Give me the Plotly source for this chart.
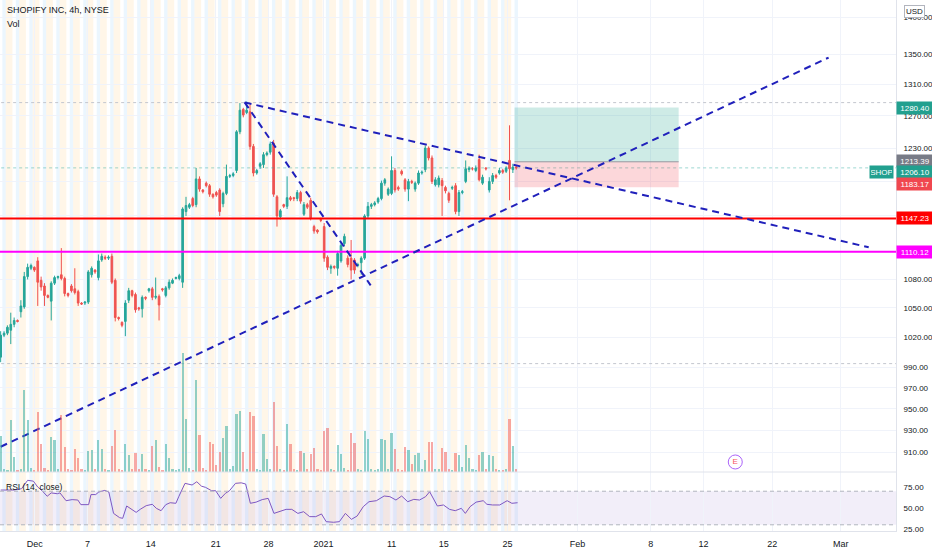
import math
import plotly.graph_objects as go

# 4h bars (extended hours), bar index 0..153
opens = [1000, 1022, 1024, 1027, 1033, 1037, 1046, 1051, 1083, 1092,
         1093, 1100, 1079, 1073, 1063, 1057, 1076, 1082, 1085, 1081,
         1065, 1073, 1070, 1067, 1055, 1055, 1056, 1085, 1090, 1082,
         1101, 1104, 1103, 1105, 1079, 1040, 1035, 1036, 1058, 1068,
         1064, 1050, 1049, 1061, 1068, 1070, 1061, 1062, 1070, 1063,
         1071, 1076, 1081, 1081, 1077, 1155, 1160, 1170, 1163, 1193,
         1180, 1188, 1185, 1175, 1177, 1180, 1164, 1176, 1196, 1197,
         1203, 1250, 1278, 1274, 1275, 1232, 1200, 1208, 1210, 1222,
         1225, 1236, 1172, 1149, 1163, 1161, 1171, 1171, 1170, 1177,
         1152, 1163, 1168, 1138, 1134, 1146, 1138, 1104, 1092, 1094,
         1092, 1100, 1119, 1103, 1103, 1101, 1095, 1098, 1103, 1150,
         1161, 1163, 1166, 1170, 1188, 1175, 1176, 1203, 1183, 1202,
         1192, 1181, 1190, 1181, 1188, 1200, 1204, 1230, 1218, 1186,
         1186, 1191, 1183, 1176, 1182, 1185, 1155, 1177, 1190, 1204,
         1205, 1203, 1216, 1188, 1206, 1180, 1190, 1197, 1200, 1203,
         1202, 1215, 1204, 1207]
highs = [1026, 1026, 1032, 1045, 1040, 1038, 1058, 1088, 1097, 1097,
         1094, 1104, 1083, 1076, 1064, 1078, 1084, 1084, 1114, 1083,
         1066, 1075, 1092, 1069, 1056, 1057, 1090, 1094, 1091, 1107,
         1108, 1106, 1106, 1108, 1081, 1041, 1036, 1058, 1071, 1069,
         1066, 1051, 1063, 1062, 1071, 1072, 1082, 1064, 1071, 1073,
         1080, 1081, 1083, 1086, 1160, 1172, 1165, 1172, 1206, 1196,
         1181, 1190, 1187, 1176, 1179, 1182, 1178, 1210, 1199, 1201,
         1252, 1286, 1280, 1288, 1284, 1235, 1205, 1213, 1225, 1226,
         1238, 1240, 1174, 1158, 1164, 1196, 1173, 1172, 1180, 1179,
         1166, 1165, 1171, 1140, 1135, 1148, 1142, 1106, 1096, 1095,
         1111, 1120, 1130, 1106, 1123, 1103, 1098, 1105, 1152, 1166,
         1165, 1167, 1172, 1191, 1194, 1183, 1220, 1206, 1185, 1204,
         1194, 1193, 1192, 1190, 1203, 1203, 1233, 1232, 1221, 1195,
         1197, 1194, 1185, 1178, 1185, 1188, 1180, 1180, 1215, 1208,
         1207, 1209, 1222, 1198, 1207, 1195, 1200, 1199, 1206, 1205,
         1208, 1258, 1211, 1209]
lows = [995, 1020, 1022, 1013, 1030, 1035, 1040, 1049, 1080, 1090,
        1088, 1052, 1068, 1052, 1060, 1037, 1074, 1080, 1079, 1062,
        1061, 1066, 1064, 1052, 1053, 1053, 1054, 1082, 1086, 1079,
        1099, 1101, 1101, 1075, 1036, 1037, 1030, 1021, 1055, 1061,
        1045, 1047, 1040, 1058, 1066, 1058, 1059, 1037, 1067, 1061,
        1069, 1075, 1080, 1079, 1071, 1150, 1158, 1160, 1160, 1178,
        1176, 1183, 1172, 1170, 1172, 1150, 1160, 1174, 1194, 1195,
        1200, 1247, 1268, 1272, 1228, 1196, 1198, 1205, 1206, 1220,
        1222, 1172, 1138, 1146, 1159, 1158, 1167, 1167, 1167, 1164,
        1150, 1158, 1145, 1130, 1130, 1143, 1099, 1090, 1086, 1091,
        1084, 1098, 1116, 1093, 1080, 1086, 1093, 1085, 1101, 1147,
        1158, 1161, 1164, 1168, 1185, 1173, 1174, 1177, 1179, 1197,
        1178, 1167, 1187, 1178, 1186, 1198, 1201, 1215, 1187, 1184,
        1183, 1150, 1176, 1165, 1180, 1152, 1150, 1175, 1188, 1201,
        1203, 1201, 1190, 1186, 1203, 1177, 1187, 1193, 1198, 1199,
        1200, 1168, 1200, 1204]
closes = [1022, 1024, 1030, 1033, 1037, 1036, 1052, 1083, 1093, 1095,
          1090, 1077, 1072, 1063, 1061, 1076, 1082, 1083, 1081, 1065,
          1063, 1068, 1066, 1055, 1054, 1056, 1088, 1092, 1088, 1100,
          1105, 1103, 1104, 1077, 1040, 1039, 1032, 1055, 1068, 1063,
          1048, 1049, 1061, 1060, 1070, 1061, 1062, 1053, 1069, 1071,
          1077, 1079, 1082, 1084, 1158, 1162, 1163, 1162, 1193, 1181,
          1178, 1185, 1175, 1172, 1174, 1155, 1176, 1196, 1197, 1199,
          1250, 1277, 1271, 1277, 1232, 1200, 1203, 1211, 1222, 1224,
          1235, 1175, 1150, 1156, 1161, 1171, 1169, 1170, 1177, 1167,
          1163, 1160, 1148, 1133, 1132, 1145, 1103, 1093, 1094, 1093,
          1108, 1117, 1127, 1096, 1090, 1090, 1096, 1103, 1150, 1161,
          1163, 1165, 1170, 1188, 1192, 1181, 1203, 1180, 1181, 1199,
          1181, 1190, 1189, 1188, 1200, 1201, 1230, 1218, 1190, 1192,
          1194, 1185, 1179, 1168, 1183, 1155, 1177, 1178, 1205, 1206,
          1205, 1206, 1192, 1195, 1205, 1190, 1197, 1195, 1203, 1201,
          1206, 1205, 1207, 1206.1]
volume_k = [360, 30, 20, 520, 150, 20, 30, 820, 520, 40,
            20, 600, 280, 40, 20, 350, 320, 30, 570, 250,
            30, 20, 230, 140, 30, 20, 210, 220, 30, 320,
            230, 30, 20, 260, 420, 30, 20, 280, 170, 30,
            190, 30, 180, 30, 20, 260, 320, 50, 20, 280,
            140, 30, 20, 30, 1190, 530, 40, 20, 920, 370,
            40, 20, 300, 280, 70, 200, 340, 460, 30, 60,
            580, 610, 200, 30, 600, 560, 30, 20, 380, 130,
            30, 700, 260, 30, 20, 480, 280, 30, 20, 210,
            190, 30, 180, 240, 30, 20, 410, 440, 30, 20,
            270, 180, 40, 20, 390, 290, 30, 20, 410, 330,
            30, 20, 30, 330, 320, 30, 390, 230, 30, 20,
            250, 220, 80, 170, 190, 30, 120, 300, 300, 30,
            30, 240, 200, 30, 20, 190, 170, 50, 270, 140,
            30, 20, 170, 200, 30, 170, 160, 30, 20, 20,
            30, 530, 260, 30]

rsi_bar = [0, 4, 6.2, 8, 9.7, 11, 12.3, 13.8, 15, 16.8, 17.6, 18.5, 19.4, 21.2, 22.9,
           23.8, 24.7, 26.1, 26.8, 28.2, 29.1, 30.9, 32.1, 33.5, 35.3, 36.2, 37.4, 38.8,
           40.2, 41.4, 43.2, 45, 46.2, 47.6, 49, 50.3, 52, 52.9, 54.7, 56.8, 58.2, 59.6,
           60.8, 62.6, 63.8, 65.3, 66.7, 67.9, 69.7, 71.4, 72.7, 74.1, 75.8, 77.6, 79.4,
           81.1, 82.9, 84.7, 86.4, 88.2, 89.9, 91.7, 93.5, 95.2, 96.6, 98.8, 100.5, 102.3,
           104.1, 105.8, 107.6, 109.3, 111.5, 113.8, 115.5, 117.3, 119, 120.8, 122.6,
           124.3, 126.1, 127.3, 129.6, 131.4, 133.2, 134.9, 136.7, 137.9, 139.3, 141.1,
           143.2, 144.3, 146, 148.1, 150.3, 151.7, 153.4]
rsi_val = [71.4, 71.4, 73, 83, 82, 75, 70.6, 64, 68, 67, 68, 64, 58.7, 60, 59.5,
           54, 54, 54, 66, 66, 69, 71, 69, 43.6, 38.5, 37.7, 52.4, 48.8,
           44.8, 48.4, 52.8, 54.4, 49.6, 46.8, 54, 56.3, 55.6, 64, 79.4, 77.4, 81.3, 76,
           74.6, 70.6, 70.6, 61.5, 67.5, 70.6, 79.4, 80, 78.6, 55.6, 57, 60, 61.5,
           43.6, 46.4, 48.4, 48.4, 43.6, 45.6, 39.7, 39.7, 42.9, 33.7, 33, 33.7, 43.6,
           36.5, 40.5, 51.6, 57.5, 58.7, 64.3, 63.5, 59.5, 64.3, 57.5, 60.3,
           59.5, 63.5, 69.4, 52.4, 53.6, 48.4, 46.8, 49.6, 43.6, 51.6, 57,
           58.7, 54.4, 53.6, 53.6, 58.7, 55.6, 56.3]

tick_bar = [10.1, 25.8, 44.5, 63.8, 79.5, 95.8, 116.0, 131.5, 150.4, 171.2, 192.9, 208.6, 229.0, 249.3]
tick_text = ["Dec", "7", "14", "21", "28", "2021", "11", "15", "25", "Feb", "8", "12", "22", "Mar"]
price_ticks = [910, 930, 950, 970, 990, 1020, 1050, 1080, 1110, 1150, 1190, 1230, 1270, 1310, 1350, 1400]
hidden_ticks = [1110, 1150, 1190]   # covered by the coloured price labels

support_red = 1147.23
support_magenta = 1110.12
# drawn trend lines: (bar0, price0, bar1, price1)
trend_lines = [(0, 915.1, 245.7, 1345.3),
               (72.4, 1286.9, 257.6, 1114.9),
               (72.4, 1286.9, 109.8, 1073.6)]
box_left, box_right = 152.5, 201.2
target, entry, stop = 1280.40, 1213.39, 1183.17
last_price = 1206.10
dotted_levels = [1286.6, 993.6]
earnings_bar, earnings_price = 218, 901.4

FONT = "Liberation Sans, Arial, sans-serif"
UP, DOWN = "#26A69A", "#EF5350"
GRID = "#F0F3FA"
AXIS = "#E0E3EB"
BLUE = "#2020BB"
TXT = "#131722"
x_range = [-0.2, 265.7]
split = (531 - 472) / 531   # main pane / RSI pane border (paper)

fig = go.Figure()

# volume (overlay at the bottom of the main pane)
vol_colors = ["rgba(38,166,154,0.5)" if c >= o else "rgba(239,83,80,0.5)" for o, c in zip(opens, closes)]
bars = list(range(len(closes)))
fig.add_trace(go.Bar(x=bars, y=volume_k, marker_color=vol_colors, marker_line_width=0,
                     width=0.65, xaxis="x", yaxis="y3"))

# candles
fig.add_trace(go.Candlestick(
    x=bars, open=opens, high=highs, low=lows, close=closes,
    increasing=dict(line=dict(color=UP, width=1), fillcolor=UP),
    decreasing=dict(line=dict(color=DOWN, width=1), fillcolor=DOWN),
    whiskerwidth=0, xaxis="x", yaxis="y"))

# horizontal levels
full = [x_range[0] - 5, x_range[1] + 5]
fig.add_trace(go.Scatter(x=full, y=[support_red] * 2, mode="lines",
                         line=dict(color="#FF0000", width=2)))
fig.add_trace(go.Scatter(x=full, y=[support_magenta] * 2, mode="lines",
                         line=dict(color="#FF00FF", width=2)))
for lvl in dotted_levels:
    fig.add_trace(go.Scatter(x=full, y=[lvl] * 2, mode="lines",
                             line=dict(color="#C3C6CE", width=1, dash="dot")))
fig.add_trace(go.Scatter(x=full, y=[last_price] * 2, mode="lines",
                         line=dict(color="rgba(38,166,154,0.45)", width=1, dash="dot")))

# long position box
fig.add_trace(go.Scatter(x=[box_left, box_right, box_right, box_left, box_left],
                         y=[entry, entry, target, target, entry], mode="none",
                         fill="toself", fillcolor="rgba(8,153,129,0.2)"))
fig.add_trace(go.Scatter(x=[box_left, box_right, box_right, box_left, box_left],
                         y=[stop, stop, entry, entry, stop], mode="none",
                         fill="toself", fillcolor="rgba(242,54,69,0.2)"))
fig.add_trace(go.Scatter(x=[box_left, box_right], y=[entry, entry], mode="lines",
                         line=dict(color="#9598A1", width=1)))

# trend lines
for b0, p0, b1, p1 in trend_lines:
    fig.add_trace(go.Scatter(x=[b0, b1], y=[p0, p1], mode="lines",
                             line=dict(color=BLUE, width=2, dash="7px,5px")))

# earnings marker
fig.add_trace(go.Scatter(x=[earnings_bar], y=[earnings_price], mode="markers+text",
                         text=["E"], textposition="middle center",
                         textfont=dict(size=8, color="#F7525F", family=FONT),
                         marker=dict(symbol="circle-open", size=14,
                                     line=dict(color="#F7A1A8", width=1))))

# RSI
fig.add_trace(go.Scatter(x=rsi_bar, y=rsi_val, mode="lines", xaxis="x2", yaxis="y2",
                         line=dict(color="#7E57C2", width=1)))

# session background stripes
shapes = []
for i in bars:
    if i % 4 == 2:
        shapes.append(dict(type="rect", xref="x", yref="paper", x0=i - 0.5, x1=i + 1.5,
                           y0=0, y1=1, fillcolor="rgba(255,152,0,0.09)", line_width=0, layer="below"))
    elif i % 4 == 1:
        shapes.append(dict(type="rect", xref="x", yref="paper", x0=i - 0.5, x1=i + 0.5,
                           y0=0, y1=1, fillcolor="rgba(33,150,243,0.09)", line_width=0, layer="below"))
# RSI band
shapes.append(dict(type="rect", xref="paper", yref="y2", x0=0, x1=1, y0=30, y1=70,
                   fillcolor="rgba(126,87,194,0.1)", line_width=0, layer="below"))
for lv in (30, 70):
    shapes.append(dict(type="line", xref="paper", yref="y2", x0=0, x1=1, y0=lv, y1=lv,
                       line=dict(color="#B2B5BE", width=1, dash="4px,3px")))
shapes.append(dict(type="line", xref="paper", yref="paper", x0=0, x1=1, y0=split, y1=split,
                   line=dict(color=AXIS, width=1)))

annotations = [
    dict(text="SHOPIFY INC, 4h, NYSE", xref="paper", yref="paper", x=0.006, y=0.981,
         xanchor="left", yanchor="middle", showarrow=False, font=dict(size=9, color=TXT)),
    dict(text="Vol", xref="paper", yref="paper", x=0.006, y=0.955,
         xanchor="left", yanchor="middle", showarrow=False, font=dict(size=9, color=TXT)),
    dict(text="RSI (14, close)", xref="paper", yref="paper", x=0.004, y=(531 - 487) / 531,
         xanchor="left", yanchor="middle", showarrow=False, font=dict(size=8.5, color=TXT)),
    dict(text="USD", xref="paper", yref="paper", x=1, y=1, xanchor="left", yanchor="top",
         xshift=8, yshift=-5, showarrow=False, bgcolor="white", bordercolor="#B2B5BE",
         borderwidth=1, borderpad=1, font=dict(size=8, color=TXT)),
]
# price labels on the right axis: (price, colour, pixel shift)
price_labels = [(target, "#22A08F", 0), (entry, "#787B86", 1), (last_price, "#22A08F", -4),
                (stop, "#F0474F", 3), (support_red, "#FF0000", 0), (support_magenta, "#FF00FF", 0)]
for p, col, sh in price_labels:
    annotations.append(dict(text=f"{p:.2f}", xref="paper", yref="y", x=1, y=math.log10(p),
                            xanchor="left", yanchor="middle", yshift=sh, showarrow=False,
                            bgcolor=col, width=34, height=10, borderpad=1,
                            font=dict(size=8, color="white")))
annotations.append(dict(text="SHOP", xref="paper", yref="y", x=1, y=math.log10(last_price),
                        xanchor="right", yanchor="middle", xshift=-2, yshift=-4, showarrow=False,
                        bgcolor="#22A08F", width=21, height=10, borderpad=1,
                        font=dict(size=8, color="white")))

price_text = ["" if v in hidden_ticks else f"{v:.2f}" for v in price_ticks]

fig.update_layout(
    width=932, height=550,
    margin=dict(l=0, r=36, t=0, b=19, autoexpand=False),
    paper_bgcolor="white", plot_bgcolor="white",
    showlegend=False,
    font=dict(family=FONT, size=9, color=TXT),
    xaxis=dict(domain=[0, 1], range=x_range, anchor="y", matches="x2", showticklabels=False,
               tickvals=tick_bar, showgrid=True, gridcolor=GRID, zeroline=False,
               rangeslider=dict(visible=False), automargin=False),
    xaxis2=dict(domain=[0, 1], range=x_range, anchor="y2", tickvals=tick_bar, ticktext=tick_text,
                showgrid=True, gridcolor=GRID, zeroline=False, showline=True, linecolor=AXIS,
                ticks="", ticklabelstandoff=4, tickfont=dict(size=9), automargin=False),
    yaxis=dict(domain=[split, 1], type="log", range=[math.log10(892.5), math.log10(1424.2)],
               side="right", anchor="x", tickvals=price_ticks, ticktext=price_text,
               showgrid=True, gridcolor=GRID,
               zeroline=False, showline=True, linecolor=AXIS, ticks="", ticklabelstandoff=5,
               tickfont=dict(size=8), automargin=False),
    yaxis2=dict(domain=[0, split], range=[22.6, 92.9], side="right", anchor="x2",
                tickvals=[25, 50, 75], ticktext=["25.00", "50.00", "75.00"], showgrid=False,
                zeroline=False, showline=True, linecolor=AXIS, ticks="", ticklabelstandoff=5,
                tickfont=dict(size=8), automargin=False),
    yaxis3=dict(overlaying="y", anchor="x", range=[0, max(volume_k) * 3.97], visible=False),
    shapes=shapes,
    annotations=annotations,
    bargap=0,
)

# the page's default body margin would shift the chart by 8px
fig.write_html("out.html", config={"displayModeBar": False},
               post_script="document.body.style.margin='0';")
